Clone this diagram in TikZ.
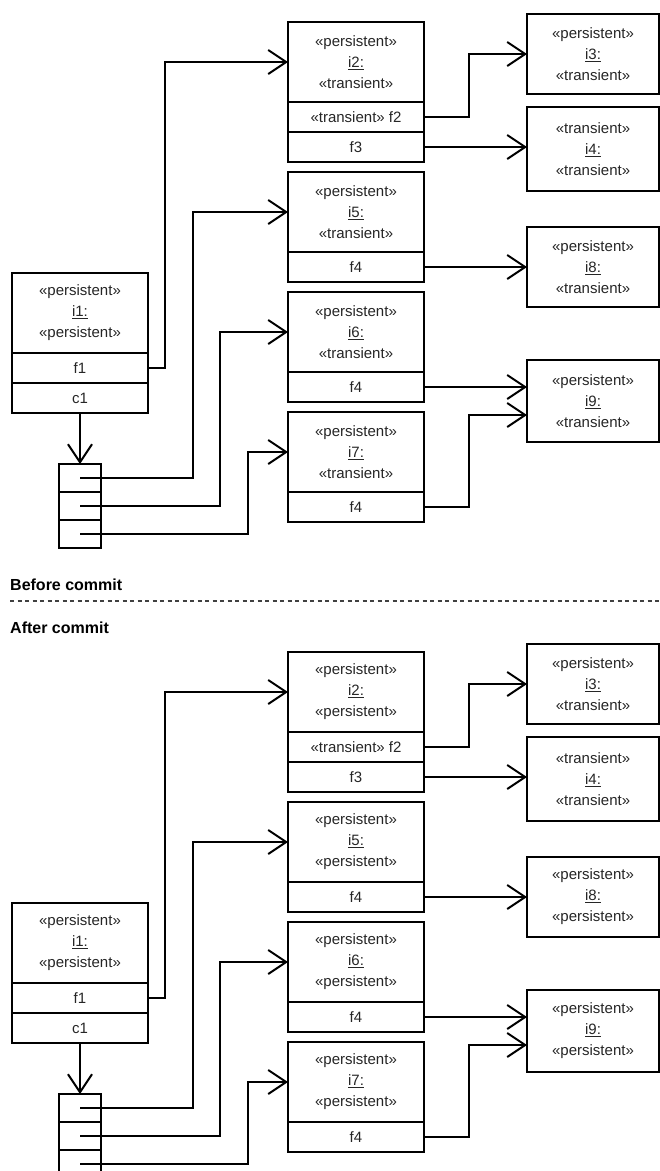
\documentclass[tikz,border=0pt]{standalone}
\usepackage{fontspec}
\setmainfont{Liberation Sans}
\usetikzlibrary{arrows.meta,calc}

\newcommand\lblfont{\fontsize{15}{21}\selectfont}

\tikzset{
  every picture/.style={x=1pt,y=-1pt},
  cls/.style={draw, line width=2pt, minimum width=136pt, inner sep=0pt, outer sep=0pt,
    anchor=north west, align=center, font=\lblfont, text=black!85},
  hdr/.style={cls, minimum height=80pt},
  row/.style={cls, minimum height=30pt},
  obj/.style={cls, minimum width=132pt, minimum height=#1},
  cell/.style={draw, line width=2pt, minimum width=42pt, minimum height=28pt,
    inner sep=0pt, outer sep=0pt, anchor=north west},
  conn/.style={line width=2pt, -{Straight Barb[length=18pt,width=24pt]}},
  caption/.style={anchor=base west, inner sep=0pt,
    font=\bfseries\fontsize{16}{18}\selectfont},
  divider/.style={line width=1.3pt, black!75, dash pattern=on 4pt off 3.5pt},
}

% One object graph: #1 name prefix, #2..#7 second stereotypes of i2, i5, i6, i7, i8, i9
\newcommand\drawpanel[7]{%
  % owner object with its list
  \node[hdr] (#1i1) at (12,273) {«persistent»\\\underline{i1:}\\«persistent»};
  \node[row] (#1f1) at (#1i1.south west) {f1};
  \node[row] (#1c1) at (#1f1.south west) {c1};
  \node[cell] (#1L1) at (59,464) {};
  \node[cell] (#1L2) at (#1L1.south west) {};
  \node[cell] (#1L3) at (#1L2.south west) {};
  % middle column
  \node[hdr] (#1i2) at (288,22) {«persistent»\\\underline{i2:}\\#2};
  \node[row] (#1f2) at (#1i2.south west) {«transient» f2};
  \node[row] (#1f3) at (#1f2.south west) {f3};
  \node[hdr] (#1i5) at (288,172) {«persistent»\\\underline{i5:}\\#3};
  \node[row] (#1g5) at (#1i5.south west) {f4};
  \node[hdr] (#1i6) at (288,292) {«persistent»\\\underline{i6:}\\#4};
  \node[row] (#1g6) at (#1i6.south west) {f4};
  \node[hdr] (#1i7) at (288,412) {«persistent»\\\underline{i7:}\\#5};
  \node[row] (#1g7) at (#1i7.south west) {f4};
  % right column
  \node[obj=80pt] (#1i3) at (527,14) {«persistent»\\\underline{i3:}\\«transient»};
  \node[obj=84pt] (#1i4) at (527,107) {«transient»\\\underline{i4:}\\«transient»};
  \node[obj=80pt] (#1i8) at (527,227) {«persistent»\\\underline{i8:}\\#6};
  \node[obj=82pt] (#1i9) at (527,360) {«persistent»\\\underline{i9:}\\#7};
  % references
  \draw[conn] (#1f1.east) -- ++(17,0) |- (#1i2.west);
  \draw[conn] (#1c1.south) -- (#1c1.south |- #1L1.north);
  \draw[conn] (#1L1.center) -- ++(113,0) |- (#1i5.west);
  \draw[conn] (#1L2.center) -- ++(140,0) |- (#1i6.west);
  \draw[conn] (#1L3.center) -- ++(168,0) |- (#1i7.west);
  \draw[conn] (#1f2.east) -- ++(45,0) |- (#1i3.west);
  \draw[conn] (#1f3.east) -- (#1f3.east -| #1i4.west);
  \draw[conn] (#1g5.east) -- (#1g5.east -| #1i8.west);
  \draw[conn] (#1g6.east) -- (#1g6.east -| #1i9.west);
  \draw[conn] (#1g7.east) -- ++(45,0) |- ($(#1i9.west)+(0,14)$);
}

\begin{document}
\begin{tikzpicture}
  \fill[white] (0,0) rectangle (660,1171);
  \useasboundingbox (0,0) rectangle (660,1171);
  \clip (0,0) rectangle (660,1171);

  \drawpanel{T}{«transient»}{«transient»}{«transient»}{«transient»}{«transient»}{«transient»}

  \node[caption] (before) at (10,590) {Before commit};
  \coordinate (divL) at (10,601);
  \coordinate (divR) at (660,601);
  \draw[divider] (divL) -- (divR);
  \node[caption] (after) at (10,633) {After commit};

  \begin{scope}[yshift=-630pt]
    \drawpanel{B}{«persistent»}{«persistent»}{«persistent»}{«persistent»}{«persistent»}{«persistent»}
  \end{scope}
\end{tikzpicture}
\end{document}
